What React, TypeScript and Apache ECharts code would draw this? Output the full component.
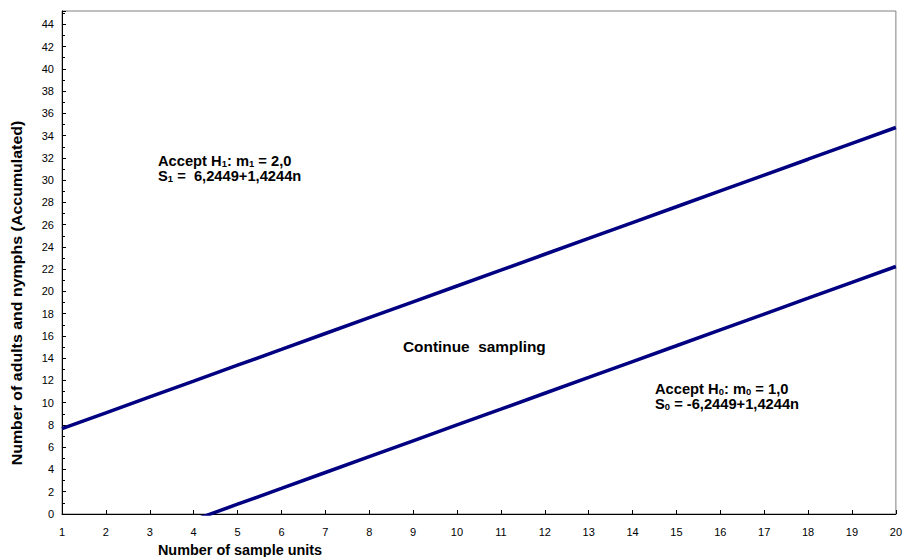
import React, { useEffect, useRef } from "react";
import * as echarts from "echarts";

const sampleUnits = [1, 2, 3, 4, 5, 6, 7, 8, 9, 10, 11, 12, 13, 14, 15, 16, 17, 18, 19, 20];
const upperS1 = [7.67, 9.09, 10.52, 11.94, 13.37, 14.79, 16.22, 17.64, 19.06, 20.49, 21.91, 23.34, 24.76, 26.19, 27.61, 29.04, 30.46, 31.88, 33.31, 34.73];
const lowerS0 = [-4.82, -3.4, -1.97, -0.55, 0.88, 2.3, 3.73, 5.15, 6.57, 8.0, 9.42, 10.85, 12.27, 13.7, 15.12, 16.55, 17.97, 19.39, 20.82, 22.24];

const FONT = "Liberation Sans, Arial, sans-serif";

export default function App() {
  const ref = useRef<HTMLDivElement>(null);
  useEffect(() => {
    if (!ref.current) return;
    const chart = echarts.init(ref.current, undefined, { renderer: "svg" });
    const rich = {
      b: { fontFamily: FONT, fontWeight: "bold", fontSize: 14, lineHeight: 16, color: "#000", verticalAlign: "middle" },
      s: { fontFamily: FONT, fontWeight: "bold", fontSize: 9, lineHeight: 6, color: "#000", verticalAlign: "bottom" },
    };
    const richLine = (text: string, x: number, y: number) => ({
      type: "text",
      x,
      y,
      scaleX: 1.05,
      style: { text, rich, textVerticalAlign: "top" },
    });
    chart.setOption({
      animation: false,
      grid: { left: 62, right: 8, top: 11, bottom: 43, show: true, borderColor: "#808080", borderWidth: 1 },
      xAxis: {
        type: "value",
        min: 1,
        max: 20,
        interval: 1,
        splitLine: { show: false },
        axisLine: { show: true, lineStyle: { color: "#000", width: 1 } },
        axisTick: { show: true, inside: true, length: 4, lineStyle: { color: "#000" } },
        axisLabel: { color: "#000", fontFamily: FONT, fontSize: 11, margin: 12 },
      },
      yAxis: {
        type: "value",
        min: 0,
        max: 45.2,
        interval: 2,
        splitLine: { show: false },
        axisLine: { show: true, lineStyle: { color: "#000", width: 1 } },
        axisTick: { show: true, inside: true, length: 4, lineStyle: { color: "#000" } },
        minorTick: { show: true, splitNumber: 2, length: 3, lineStyle: { color: "#000" } },
        axisLabel: { color: "#000", fontFamily: FONT, fontSize: 11, margin: 8, showMaxLabel: false },
      },
      series: [
        {
          type: "line",
          data: sampleUnits.map((n, i) => [n, upperS1[i]]),
          symbol: "none",
          clip: true,
          lineStyle: { color: "#000080", width: 3.5 },
        },
        {
          type: "line",
          data: sampleUnits.map((n, i) => [n, lowerS0[i]]),
          symbol: "none",
          clip: true,
          lineStyle: { color: "#000080", width: 3.5 },
        },
      ],
      graphic: [
        richLine("{b|Accept H}{s|1}{b|: m}{s|1}{b| = 2,0}", 158, 153),
        richLine("{b|S}{s|1}{b| =  6,2449+1,4244n}", 158, 168),
        {
          type: "text",
          x: 403,
          y: 340,
          scaleX: 1.1,
          style: { text: "Continue  sampling", fontFamily: FONT, fontWeight: "bold", fontSize: 14, fill: "#000" },
        },
        richLine("{b|Accept H}{s|0}{b|: m}{s|0}{b| = 1,0}", 655, 381),
        richLine("{b|S}{s|0}{b| = -6,2449+1,4244n}", 655, 396),
        {
          type: "text",
          x: 240,
          y: 550,
          scaleX: 1.03,
          style: {
            text: "Number of sample units",
            fontFamily: FONT,
            fontWeight: "bold",
            fontSize: 14,
            fill: "#000",
            textAlign: "center",
            textVerticalAlign: "middle",
          },
        },
        {
          type: "text",
          x: 17,
          y: 293,
          rotation: Math.PI / 2,
          scaleX: 1.14,
          style: {
            text: "Number of adults and nymphs (Accumulated)",
            fontFamily: FONT,
            fontWeight: "bold",
            fontSize: 14,
            fill: "#000",
            textAlign: "center",
            textVerticalAlign: "middle",
          },
        },
      ],
    });
    return () => chart.dispose();
  }, []);
  return <div ref={ref} style={{ width: 905, height: 557, position: "absolute", left: 0, top: 0 }} />;
}
